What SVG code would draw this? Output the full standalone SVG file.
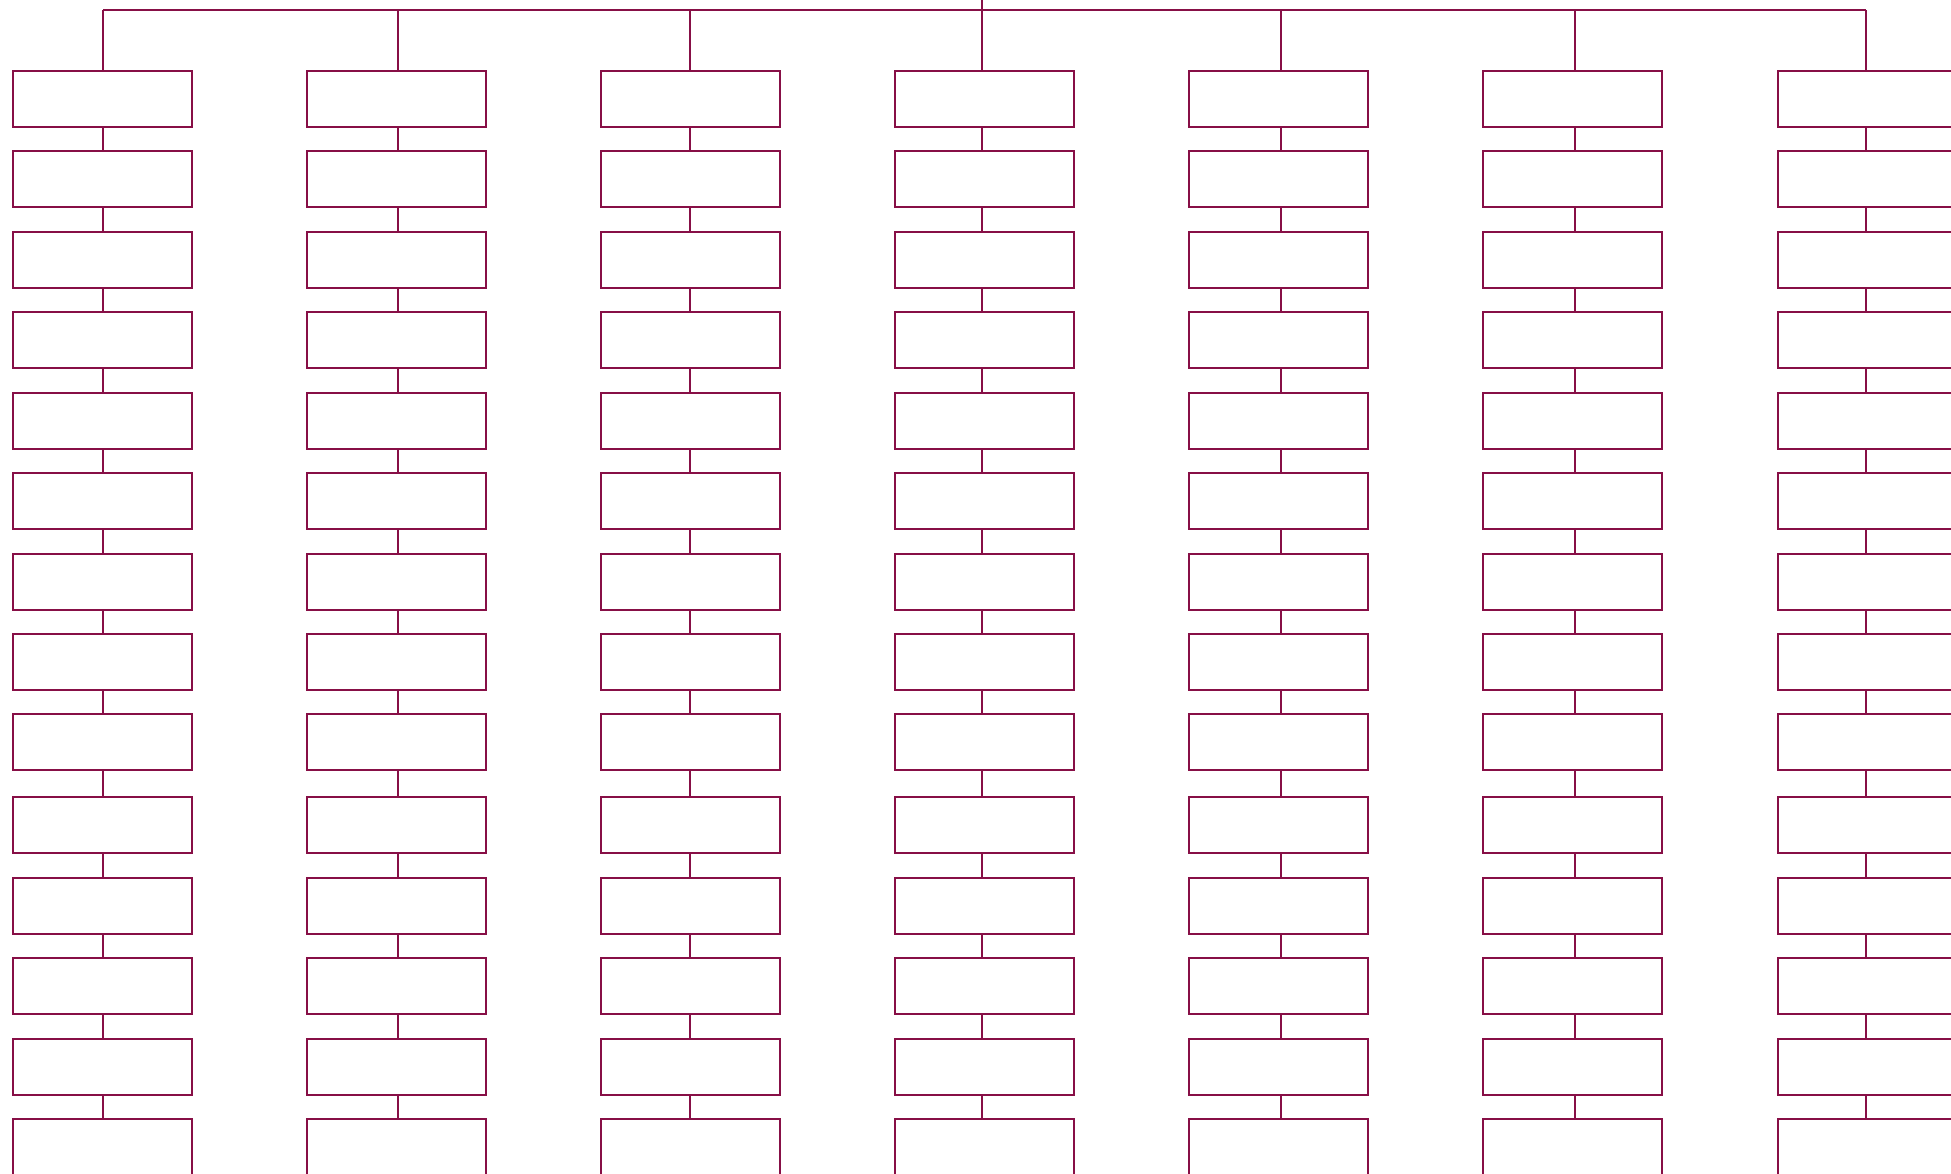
<svg xmlns="http://www.w3.org/2000/svg" width="1951" height="1174" viewBox="0 0 1951 1174">
<style>
.n{fill:#ffffff;stroke:#870F46;stroke-width:2}
.c{stroke:#870F46;stroke-width:2;fill:none}
</style>
<rect width="1951" height="1174" fill="#ffffff"/>
<g id="connectors">
<path class="c" d="M982 0V10M103 10H1866M103 10V71M398 10V71M690 10V71M982 10V71M1281 10V71M1575 10V71M1866 10V71"/>
<path class="c" d="M103 127V151M103 207V232M103 288V312M103 368V393M103 449V473M103 529V554M103 610V634M103 690V714M103 770V797M103 853V878M103 934V958M103 1014V1039M103 1095V1119"/>
<path class="c" d="M398 127V151M398 207V232M398 288V312M398 368V393M398 449V473M398 529V554M398 610V634M398 690V714M398 770V797M398 853V878M398 934V958M398 1014V1039M398 1095V1119"/>
<path class="c" d="M690 127V151M690 207V232M690 288V312M690 368V393M690 449V473M690 529V554M690 610V634M690 690V714M690 770V797M690 853V878M690 934V958M690 1014V1039M690 1095V1119"/>
<path class="c" d="M982 127V151M982 207V232M982 288V312M982 368V393M982 449V473M982 529V554M982 610V634M982 690V714M982 770V797M982 853V878M982 934V958M982 1014V1039M982 1095V1119"/>
<path class="c" d="M1281 127V151M1281 207V232M1281 288V312M1281 368V393M1281 449V473M1281 529V554M1281 610V634M1281 690V714M1281 770V797M1281 853V878M1281 934V958M1281 1014V1039M1281 1095V1119"/>
<path class="c" d="M1575 127V151M1575 207V232M1575 288V312M1575 368V393M1575 449V473M1575 529V554M1575 610V634M1575 690V714M1575 770V797M1575 853V878M1575 934V958M1575 1014V1039M1575 1095V1119"/>
<path class="c" d="M1866 127V151M1866 207V232M1866 288V312M1866 368V393M1866 449V473M1866 529V554M1866 610V634M1866 690V714M1866 770V797M1866 853V878M1866 934V958M1866 1014V1039M1866 1095V1119"/>
</g>
<g id="nodes">
<g id="c1r1"><rect class="n" x="13" y="71" width="179" height="56"/></g>
<g id="c1r2"><rect class="n" x="13" y="151" width="179" height="56"/></g>
<g id="c1r3"><rect class="n" x="13" y="232" width="179" height="56"/></g>
<g id="c1r4"><rect class="n" x="13" y="312" width="179" height="56"/></g>
<g id="c1r5"><rect class="n" x="13" y="393" width="179" height="56"/></g>
<g id="c1r6"><rect class="n" x="13" y="473" width="179" height="56"/></g>
<g id="c1r7"><rect class="n" x="13" y="554" width="179" height="56"/></g>
<g id="c1r8"><rect class="n" x="13" y="634" width="179" height="56"/></g>
<g id="c1r9"><rect class="n" x="13" y="714" width="179" height="56"/></g>
<g id="c1r10"><rect class="n" x="13" y="797" width="179" height="56"/></g>
<g id="c1r11"><rect class="n" x="13" y="878" width="179" height="56"/></g>
<g id="c1r12"><rect class="n" x="13" y="958" width="179" height="56"/></g>
<g id="c1r13"><rect class="n" x="13" y="1039" width="179" height="56"/></g>
<g id="c1r14"><rect class="n" x="13" y="1119" width="179" height="56"/></g>
<g id="c2r1"><rect class="n" x="307" y="71" width="179" height="56"/></g>
<g id="c2r2"><rect class="n" x="307" y="151" width="179" height="56"/></g>
<g id="c2r3"><rect class="n" x="307" y="232" width="179" height="56"/></g>
<g id="c2r4"><rect class="n" x="307" y="312" width="179" height="56"/></g>
<g id="c2r5"><rect class="n" x="307" y="393" width="179" height="56"/></g>
<g id="c2r6"><rect class="n" x="307" y="473" width="179" height="56"/></g>
<g id="c2r7"><rect class="n" x="307" y="554" width="179" height="56"/></g>
<g id="c2r8"><rect class="n" x="307" y="634" width="179" height="56"/></g>
<g id="c2r9"><rect class="n" x="307" y="714" width="179" height="56"/></g>
<g id="c2r10"><rect class="n" x="307" y="797" width="179" height="56"/></g>
<g id="c2r11"><rect class="n" x="307" y="878" width="179" height="56"/></g>
<g id="c2r12"><rect class="n" x="307" y="958" width="179" height="56"/></g>
<g id="c2r13"><rect class="n" x="307" y="1039" width="179" height="56"/></g>
<g id="c2r14"><rect class="n" x="307" y="1119" width="179" height="56"/></g>
<g id="c3r1"><rect class="n" x="601" y="71" width="179" height="56"/></g>
<g id="c3r2"><rect class="n" x="601" y="151" width="179" height="56"/></g>
<g id="c3r3"><rect class="n" x="601" y="232" width="179" height="56"/></g>
<g id="c3r4"><rect class="n" x="601" y="312" width="179" height="56"/></g>
<g id="c3r5"><rect class="n" x="601" y="393" width="179" height="56"/></g>
<g id="c3r6"><rect class="n" x="601" y="473" width="179" height="56"/></g>
<g id="c3r7"><rect class="n" x="601" y="554" width="179" height="56"/></g>
<g id="c3r8"><rect class="n" x="601" y="634" width="179" height="56"/></g>
<g id="c3r9"><rect class="n" x="601" y="714" width="179" height="56"/></g>
<g id="c3r10"><rect class="n" x="601" y="797" width="179" height="56"/></g>
<g id="c3r11"><rect class="n" x="601" y="878" width="179" height="56"/></g>
<g id="c3r12"><rect class="n" x="601" y="958" width="179" height="56"/></g>
<g id="c3r13"><rect class="n" x="601" y="1039" width="179" height="56"/></g>
<g id="c3r14"><rect class="n" x="601" y="1119" width="179" height="56"/></g>
<g id="c4r1"><rect class="n" x="895" y="71" width="179" height="56"/></g>
<g id="c4r2"><rect class="n" x="895" y="151" width="179" height="56"/></g>
<g id="c4r3"><rect class="n" x="895" y="232" width="179" height="56"/></g>
<g id="c4r4"><rect class="n" x="895" y="312" width="179" height="56"/></g>
<g id="c4r5"><rect class="n" x="895" y="393" width="179" height="56"/></g>
<g id="c4r6"><rect class="n" x="895" y="473" width="179" height="56"/></g>
<g id="c4r7"><rect class="n" x="895" y="554" width="179" height="56"/></g>
<g id="c4r8"><rect class="n" x="895" y="634" width="179" height="56"/></g>
<g id="c4r9"><rect class="n" x="895" y="714" width="179" height="56"/></g>
<g id="c4r10"><rect class="n" x="895" y="797" width="179" height="56"/></g>
<g id="c4r11"><rect class="n" x="895" y="878" width="179" height="56"/></g>
<g id="c4r12"><rect class="n" x="895" y="958" width="179" height="56"/></g>
<g id="c4r13"><rect class="n" x="895" y="1039" width="179" height="56"/></g>
<g id="c4r14"><rect class="n" x="895" y="1119" width="179" height="56"/></g>
<g id="c5r1"><rect class="n" x="1189" y="71" width="179" height="56"/></g>
<g id="c5r2"><rect class="n" x="1189" y="151" width="179" height="56"/></g>
<g id="c5r3"><rect class="n" x="1189" y="232" width="179" height="56"/></g>
<g id="c5r4"><rect class="n" x="1189" y="312" width="179" height="56"/></g>
<g id="c5r5"><rect class="n" x="1189" y="393" width="179" height="56"/></g>
<g id="c5r6"><rect class="n" x="1189" y="473" width="179" height="56"/></g>
<g id="c5r7"><rect class="n" x="1189" y="554" width="179" height="56"/></g>
<g id="c5r8"><rect class="n" x="1189" y="634" width="179" height="56"/></g>
<g id="c5r9"><rect class="n" x="1189" y="714" width="179" height="56"/></g>
<g id="c5r10"><rect class="n" x="1189" y="797" width="179" height="56"/></g>
<g id="c5r11"><rect class="n" x="1189" y="878" width="179" height="56"/></g>
<g id="c5r12"><rect class="n" x="1189" y="958" width="179" height="56"/></g>
<g id="c5r13"><rect class="n" x="1189" y="1039" width="179" height="56"/></g>
<g id="c5r14"><rect class="n" x="1189" y="1119" width="179" height="56"/></g>
<g id="c6r1"><rect class="n" x="1483" y="71" width="179" height="56"/></g>
<g id="c6r2"><rect class="n" x="1483" y="151" width="179" height="56"/></g>
<g id="c6r3"><rect class="n" x="1483" y="232" width="179" height="56"/></g>
<g id="c6r4"><rect class="n" x="1483" y="312" width="179" height="56"/></g>
<g id="c6r5"><rect class="n" x="1483" y="393" width="179" height="56"/></g>
<g id="c6r6"><rect class="n" x="1483" y="473" width="179" height="56"/></g>
<g id="c6r7"><rect class="n" x="1483" y="554" width="179" height="56"/></g>
<g id="c6r8"><rect class="n" x="1483" y="634" width="179" height="56"/></g>
<g id="c6r9"><rect class="n" x="1483" y="714" width="179" height="56"/></g>
<g id="c6r10"><rect class="n" x="1483" y="797" width="179" height="56"/></g>
<g id="c6r11"><rect class="n" x="1483" y="878" width="179" height="56"/></g>
<g id="c6r12"><rect class="n" x="1483" y="958" width="179" height="56"/></g>
<g id="c6r13"><rect class="n" x="1483" y="1039" width="179" height="56"/></g>
<g id="c6r14"><rect class="n" x="1483" y="1119" width="179" height="56"/></g>
<g id="c7r1"><rect class="n" x="1778" y="71" width="179" height="56"/></g>
<g id="c7r2"><rect class="n" x="1778" y="151" width="179" height="56"/></g>
<g id="c7r3"><rect class="n" x="1778" y="232" width="179" height="56"/></g>
<g id="c7r4"><rect class="n" x="1778" y="312" width="179" height="56"/></g>
<g id="c7r5"><rect class="n" x="1778" y="393" width="179" height="56"/></g>
<g id="c7r6"><rect class="n" x="1778" y="473" width="179" height="56"/></g>
<g id="c7r7"><rect class="n" x="1778" y="554" width="179" height="56"/></g>
<g id="c7r8"><rect class="n" x="1778" y="634" width="179" height="56"/></g>
<g id="c7r9"><rect class="n" x="1778" y="714" width="179" height="56"/></g>
<g id="c7r10"><rect class="n" x="1778" y="797" width="179" height="56"/></g>
<g id="c7r11"><rect class="n" x="1778" y="878" width="179" height="56"/></g>
<g id="c7r12"><rect class="n" x="1778" y="958" width="179" height="56"/></g>
<g id="c7r13"><rect class="n" x="1778" y="1039" width="179" height="56"/></g>
<g id="c7r14"><rect class="n" x="1778" y="1119" width="179" height="56"/></g>
</g>
</svg>
